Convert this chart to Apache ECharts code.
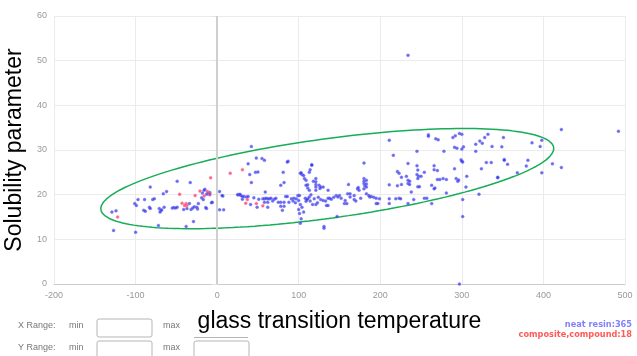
<!DOCTYPE html>
<html>
<head>
<meta charset="utf-8">
<script src="https://cdn.jsdelivr.net/npm/echarts@6/dist/echarts.min.js"></script>
<style>
  html, body {margin: 0; padding: 0; background: #fff;}
  #chart {width: 637px; height: 356px;}
</style>
</head>
<body>
<div id="chart"></div>
<script>
const xTicks = [-200, 500, 100];
const yTicks = [0, 60, 10];

const neatResin = [
  [-129, 16.1], [-124, 16.4], [-127, 12.0], [-100, 11.6], [-101, 18.0], [-99, 17.6], [-97, 18.9], [-89, 18.9],
  [-90, 16.5], [-88, 16.3], [-83, 17.2], [-82, 16.9], [-82, 21.7], [-79, 18.9], [-77, 19.1], [-71, 16.9],
  [-70, 16.1], [-69, 16.4], [-68, 16.6], [-65, 17.2], [-66, 20.2], [-62, 20.7], [-55, 17.0], [-53, 17.1],
  [-51, 17.0], [-49, 17.2], [-49, 23.0], [-41, 16.7], [-37, 16.9], [-34, 18.0], [-33, 22.7], [-32, 16.7],
  [-29, 14.0], [-38, 12.9], [-72, 13.1], [-30, 17.0], [-28, 17.3], [-24, 16.8], [-25, 17.2], [-18, 20.4],
  [-19, 19.3], [-17, 18.9], [-15, 21.2], [-13, 20.1], [-9, 20.5], [-9, 20.0], [-7, 18.2], [3, 20.7],
  [7, 19.7], [3, 16.6], [8, 16.6], [-13, 16.9], [-23, 18.0], [-14, 17.1], [-6, 18.3], [6, 19.8],
  [-16, 21.0], [-11, 20.3],
  [25, 20.0], [29, 19.8], [33, 19.6], [36, 19.5], [42, 30.8], [48, 28.2], [55, 28.1], [58, 27.7],
  [38, 26.9], [40, 24.5], [47, 25.0], [50, 25.1], [42, 22.7], [26, 20.0], [31, 19.6], [38, 19.6],
  [41, 17.8], [59, 20.6], [56, 19.1], [58, 19.1], [60, 19.2], [62, 19.1], [64, 19.1], [66, 19.2],
  [58, 18.3], [62, 18.3], [49, 17.2], [62, 17.2], [31, 19.0], [28, 20.1], [45, 19.3], [51, 19.0],
  [68, 18.6], [70, 19.0], [72, 19.2],
  [78, 22.1], [82, 22.7], [81, 25.0], [87, 27.5], [86, 27.3], [84, 19.6], [86, 19.6], [75, 18.3],
  [78, 18.3], [82, 18.3], [78, 17.4], [82, 17.4], [80, 16.5], [91, 19.1], [94, 19.2], [97, 19.1],
  [99, 19.8], [101, 19.8], [102, 24.8], [104, 24.5], [106, 24.3], [107, 23.6], [109, 23.2], [111, 22.2],
  [113, 25.0], [114, 25.6], [116, 26.6], [109, 22.1], [111, 21.5], [113, 21.0], [100, 18.7], [102, 17.8],
  [104, 17.2], [100, 16.7], [101, 15.8], [103, 14.6], [102, 13.6], [106, 16.1], [121, 23.6], [121, 22.9],
  [121, 22.3], [121, 21.7], [121, 21.0], [125, 22.1], [126, 21.4], [127, 21.7], [130, 21.7], [119, 19.1],
  [124, 19.4], [127, 18.9], [130, 18.7], [117, 17.8], [121, 17.8], [115, 20.0], [113, 19.5], [111, 19.1],
  [109, 18.5], [131, 12.5], [131, 12.9], [136, 21.0], [136, 19.2], [138, 19.2], [134, 17.6], [136, 17.6],
  [147, 15.1], [146, 19.8], [148, 19.5], [150, 19.8], [156, 18.0], [159, 18.0], [160, 20.2], [161, 22.3],
  [163, 20.2], [168, 18.9], [168, 19.8], [172, 21.3], [174, 21.0], [173, 21.6], [116, 26.7], [103, 24.9],
  [88, 18.3], [93, 18.6], [96, 18.2], [108, 19.2], [110, 18.9], [114, 18.6], [123, 18.2], [133, 18.6],
  [140, 19.0], [143, 19.4], [152, 19.2], [157, 18.7], [163, 19.5], [170, 18.6], [176, 19.2], [118, 23.0],
  [180, 27.1], [180, 23.6], [180, 23.0], [180, 22.5], [181, 22.0], [180, 21.3], [187, 19.5],
  [183, 23.2], [183, 22.4], [183, 21.7], [183, 20.2], [186, 19.8], [189, 19.6], [192, 19.4], [195, 19.2],
  [199, 19.1], [195, 18.0], [197, 18.0], [211, 32.2], [216, 28.8], [245, 29.7], [259, 33.4], [259, 33.1],
  [268, 32.5], [271, 32.3], [289, 32.8], [292, 33.2], [294, 30.4], [291, 30.6], [300, 33.5], [302, 30.7],
  [300, 30.2], [317, 31.3], [322, 32.0], [325, 31.5], [328, 32.8], [332, 33.5], [337, 30.8], [317, 29.7],
  [278, 29.7], [352, 27.9], [330, 27.2], [336, 27.2], [324, 25.8], [344, 23.8], [299, 27.8], [301, 27.3],
  [300, 27.5], [306, 24.1], [291, 25.8], [297, 33.7],
  [234, 27.0], [245, 26.5], [246, 25.5], [266, 26.5], [266, 25.6], [270, 25.4],
  [221, 25.2], [223, 24.8], [226, 23.9], [232, 24.1], [234, 23.2], [234, 22.5], [236, 23.0], [245, 24.5],
  [247, 24.1], [246, 23.6], [250, 24.1], [254, 25.0],
  [226, 22.3], [221, 22.0], [236, 22.3], [246, 21.8], [248, 21.8], [263, 22.1], [267, 21.5], [266, 21.3],
  [270, 23.4], [273, 23.4], [277, 23.6], [281, 23.4], [293, 23.6], [295, 23.0], [296, 23.3], [305, 21.7],
  [281, 20.4], [321, 20.1], [301, 18.9], [301, 15.1], [238, 20.6], [211, 22.2], [223, 19.2], [219, 19.1],
  [234, 18.0], [241, 18.9], [254, 19.2], [257, 19.2], [263, 18.0], [211, 19.1], [211, 18.0], [225, 19.1],
  [422, 34.6], [492, 34.2], [351, 32.8], [349, 30.7], [386, 31.6], [398, 32.2], [396, 30.8], [352, 27.7],
  [356, 26.8], [381, 27.7], [379, 26.4], [368, 24.9], [411, 26.9], [422, 26.1], [398, 24.9], [344, 23.9],
  [234, 51.2], [297, 0]
];

const composite = [
  [-122, 15.0], [-46, 20.1], [-43, 18.1], [-38, 18.0], [-37, 17.6], [-40, 17.6], [-27, 19.8], [-21, 20.8],
  [-12, 20.7], [-8, 23.8], [-9, 20.2], [-16, 19.7], [16, 24.8], [31, 25.6], [37, 18.9], [35, 18.1],
  [48, 18.0], [56, 17.5]
];

// ellipse: centre and two semi-axis vectors, in data units
const ellipseCenter = [135, 23.6];
const ellipseMajor = [277.6, 6.95];
const ellipseMinor = [6.6, -8.8];

const ellipse = [];
for (let i = 0; i <= 180; i++) {
  const t = i / 180 * Math.PI * 2;
  ellipse.push([
    ellipseCenter[0] + Math.cos(t) * ellipseMajor[0] + Math.sin(t) * ellipseMinor[0],
    ellipseCenter[1] + Math.cos(t) * ellipseMajor[1] + Math.sin(t) * ellipseMinor[1],
  ]);
}

const chart = echarts.init(document.getElementById("chart"));

const labelFont = {fontFamily: "Liberation Sans, Arial, sans-serif", fontSize: 9, fill: "#777"};
const box = (x, y) => ({type: "rect", shape: {x: x, y: y, width: 55, height: 18, r: 2}, style: {fill: "#fff", stroke: "#b5b5b5", lineWidth: 1}});

chart.setOption({
  animation: false,
  grid: {left: 54, right: 12, top: 16, bottom: 72, containLabel: false, outerBoundsMode: "none"},
  xAxis: {
    type: "value", min: xTicks[0], max: xTicks[1], interval: xTicks[2],
    name: "glass transition temperature", nameLocation: "middle", nameGap: 26,
    nameTextStyle: {color: "#000", fontSize: 23, fontFamily: "Liberation Sans, Arial, sans-serif"},
    axisLine: {show: true, lineStyle: {color: "#ccc", width: 1}},
    axisTick: {show: false},
    axisLabel: {color: "#999", fontSize: 9, margin: 7, fontFamily: "Liberation Sans, Arial, sans-serif"},
    splitLine: {show: true, lineStyle: {color: "#ebebeb", width: 1}},
  },
  yAxis: {
    type: "value", min: yTicks[0], max: yTicks[1], interval: yTicks[2],
    name: "Solubility parameter", nameLocation: "middle", nameGap: 22,
    nameTextStyle: {color: "#000", fontSize: 23, fontFamily: "Liberation Sans, Arial, sans-serif"},
    axisLine: {show: false},
    axisTick: {show: true, length: 5, lineStyle: {color: "#e3e3e3"}},
    axisLabel: {color: "#999", fontSize: 9, margin: 7, fontFamily: "Liberation Sans, Arial, sans-serif"},
    splitLine: {show: true, lineStyle: {color: "#ebebeb", width: 1}},
  },
  series: [
    {
      type: "line", data: ellipse, showSymbol: false, silent: true,
      lineStyle: {color: "#16ad58", width: 1.5}, z: 3,
      markLine: {
        silent: true, symbol: "none", label: {show: false},
        lineStyle: {color: "#cfcfcf", width: 2, type: "solid"},
        data: [{xAxis: 0}],
      },
    },
    {
      type: "scatter", data: neatResin, symbolSize: 3,
      itemStyle: {color: "rgba(40,40,225,0.85)", borderColor: "rgba(120,120,255,0.45)", borderWidth: 1}, z: 4,
    },
    {
      type: "scatter", data: composite, symbolSize: 3,
      itemStyle: {color: "rgba(255,40,90,0.9)", borderColor: "rgba(255,130,160,0.5)", borderWidth: 1}, z: 5,
    },
  ],
  graphic: [
    {type: "text", left: 18, top: 321, style: Object.assign({text: "X Range:"}, labelFont)},
    {type: "text", left: 69, top: 321, style: Object.assign({text: "min"}, labelFont)},
    box(97, 319),
    {type: "text", left: 163, top: 321, style: Object.assign({text: "max"}, labelFont)},
    {type: "line", shape: {x1: 194, y1: 337.5, x2: 248, y2: 337.5}, style: {stroke: "#b5b5b5", lineWidth: 1}},
    {type: "text", left: 18, top: 343, style: Object.assign({text: "Y Range:"}, labelFont)},
    {type: "text", left: 69, top: 343, style: Object.assign({text: "min"}, labelFont)},
    box(97, 341),
    {type: "text", left: 163, top: 343, style: Object.assign({text: "max"}, labelFont)},
    box(194, 341),
    {type: "text", right: 5, top: 321, style: {text: "neat resin:365", fill: "#8080ff", fontSize: 8.2, fontWeight: "bold", fontFamily: "DejaVu Sans, Verdana, sans-serif"}},
    {type: "text", right: 5, top: 331, style: {text: "composite,compound:18", fill: "#ff5a5a", fontSize: 8.2, fontWeight: "bold", fontFamily: "DejaVu Sans, Verdana, sans-serif"}},
  ],
});
</script>
</body>
</html>
